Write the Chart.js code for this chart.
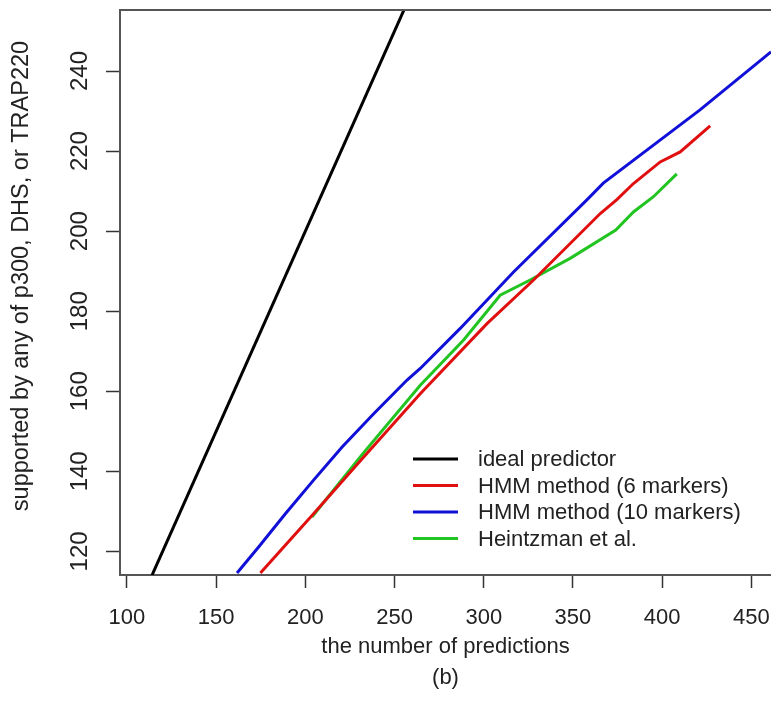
<!DOCTYPE html>
<html>
<head>
<meta charset="utf-8">
<script src="https://cdn.jsdelivr.net/npm/chart.js@4/dist/chart.umd.min.js"></script>
<style>
  html, body { margin: 0; padding: 0; background: #fff; }
  canvas { display: block; }
</style>
</head>
<body>
<canvas id="chart" width="771" height="717"></canvas>
<script>
// values
const xTicks = [100, 150, 200, 250, 300, 350, 400, 450];
const yTicks = [120, 140, 160, 180, 200, 220, 240];

const idealX = [100, 260];
const idealY = [100, 260];

const hmm6X = [174.8, 204.6, 232.7, 264.4, 301.8, 327.9, 365.3, 374.6, 383.9, 398.9, 410.1, 426.9];
const hmm6Y = [114.6, 129.4, 143.6, 159.4, 176.9, 187.8, 204.4, 207.9, 211.9, 217.3, 219.8, 226.3];

const hmm10X = [161.7, 173.8, 188.8, 204.6, 220.6, 238.3, 257, 264.4, 286.8, 316.7, 357.8, 367, 421.2, 461, 470];
const hmm10Y = [114.6, 121.1, 129.4, 137.8, 146.1, 154.4, 162.8, 165.7, 175.7, 189.8, 207.8, 212, 230.3, 244.8, 248];

const heintzX = [203.7, 232, 264.4, 288.7, 309.2, 326, 348.4, 374, 383.9, 395.1, 408.2];
const heintzY = [128.6, 144.3, 161.5, 172.8, 184, 187.8, 193.2, 200.3, 204.8, 208.6, 214.3];

const labels = ['ideal predictor', 'HMM method (6 markers)', 'HMM method (10 markers)', 'Heintzman et al.'];
const colors = ['#000000', '#e01010', '#1010d8', '#22c422'];
const yTitle = 'supported by any of p300, DHS, or TRAP220';

function pts(xs, ys) {
  return xs.map((x, i) => ({x: x, y: ys[i]}));
}

function series(i, xs, ys) {
  return {
    label: labels[i],
    data: pts(xs, ys),
    borderColor: colors[i],
    backgroundColor: colors[i],
    borderWidth: 3,
    pointRadius: 0,
    tension: 0,
    clip: 0
  };
}

const textColor = '#222';
const axisColor = '#555';
const fontFam = '"Liberation Sans", Arial, sans-serif';

// in-plot legend, y tick labels + title (rotated like R), top frame line
const extras = {
  id: 'extras',
  afterDraw(chart) {
    const ctx = chart.ctx;
    const area = chart.chartArea;
    ctx.save();
    ctx.strokeStyle = axisColor;
    ctx.lineWidth = 2;
    ctx.beginPath();
    ctx.moveTo(area.left - 1, area.top);
    ctx.lineTo(chart.width, area.top);
    ctx.stroke();

    // y labels
    const ys = chart.scales.y;
    ctx.fillStyle = textColor;
    ctx.font = '24px ' + fontFam;
    ctx.textAlign = 'center';
    ctx.textBaseline = 'middle';
    ys.ticks.forEach((t, i) => {
      const py = ys.getPixelForTick(i);
      ctx.save();
      ctx.translate(80, py);
      ctx.rotate(-Math.PI / 2);
      ctx.fillText(String(t.value), 0, 0);
      ctx.restore();
    });

    // y title
    ctx.font = '23.5px ' + fontFam;
    ctx.save();
    ctx.translate(22, 276);
    ctx.rotate(-Math.PI / 2);
    ctx.fillText(yTitle, 0, 0);
    ctx.restore();

    // legend
    ctx.font = '22px ' + fontFam;
    ctx.textAlign = 'left';
    chart.data.datasets.forEach((ds, i) => {
      const y = 459 + i * 26.5;
      ctx.strokeStyle = ds.borderColor;
      ctx.lineWidth = 3;
      ctx.beginPath();
      ctx.moveTo(413, y);
      ctx.lineTo(458, y);
      ctx.stroke();
      ctx.fillStyle = textColor;
      ctx.fillText(ds.label, 478, y + 1);
    });
    ctx.restore();
  }
};

new Chart(document.getElementById('chart'), {
  type: 'line',
  data: {
    datasets: [
      series(0, idealX, idealY),
      series(1, hmm6X, hmm6Y),
      series(2, hmm10X, hmm10Y),
      series(3, heintzX, heintzY)
    ]
  },
  options: {
    responsive: false,
    animation: false,
    layout: { padding: { top: 10, right: 0, bottom: 0, left: 0 } },
    plugins: {
      legend: { display: false },
      tooltip: { enabled: false }
    },
    scales: {
      x: {
        type: 'linear',
        min: 96.1,
        max: 461,
        afterBuildTicks: (s) => { s.ticks = xTicks.map(v => ({value: v})); },
        afterFit: (s) => { s.height = 142; s.paddingLeft = 0; s.paddingRight = 0; },
        border: { display: true, color: axisColor, width: 2 },
        grid: { drawOnChartArea: false, drawTicks: true, tickLength: 13, tickWidth: 1.5, tickColor: '#333' },
        ticks: {
          color: textColor,
          padding: 17,
          maxRotation: 0,
          font: { family: fontFam, size: 22 }
        },
        title: {
          display: true,
          text: ['the number of predictions', '(b)'],
          color: textColor,
          padding: { top: 0, bottom: 23.5 },
          font: { family: fontFam, size: 22, lineHeight: 31 / 22 }
        }
      },
      y: {
        type: 'linear',
        min: 114.1,
        max: 255.25,
        afterBuildTicks: (s) => { s.ticks = yTicks.map(v => ({value: v})); },
        afterFit: (s) => { s.width = 120; s.paddingTop = 0; s.paddingBottom = 0; },
        border: { display: true, color: axisColor, width: 2 },
        grid: { drawOnChartArea: false, drawTicks: true, tickLength: 14, tickWidth: 1.5, tickColor: '#333' },
        ticks: { display: false },
        title: { display: false }
      }
    }
  },
  plugins: [extras]
});
</script>
</body>
</html>
